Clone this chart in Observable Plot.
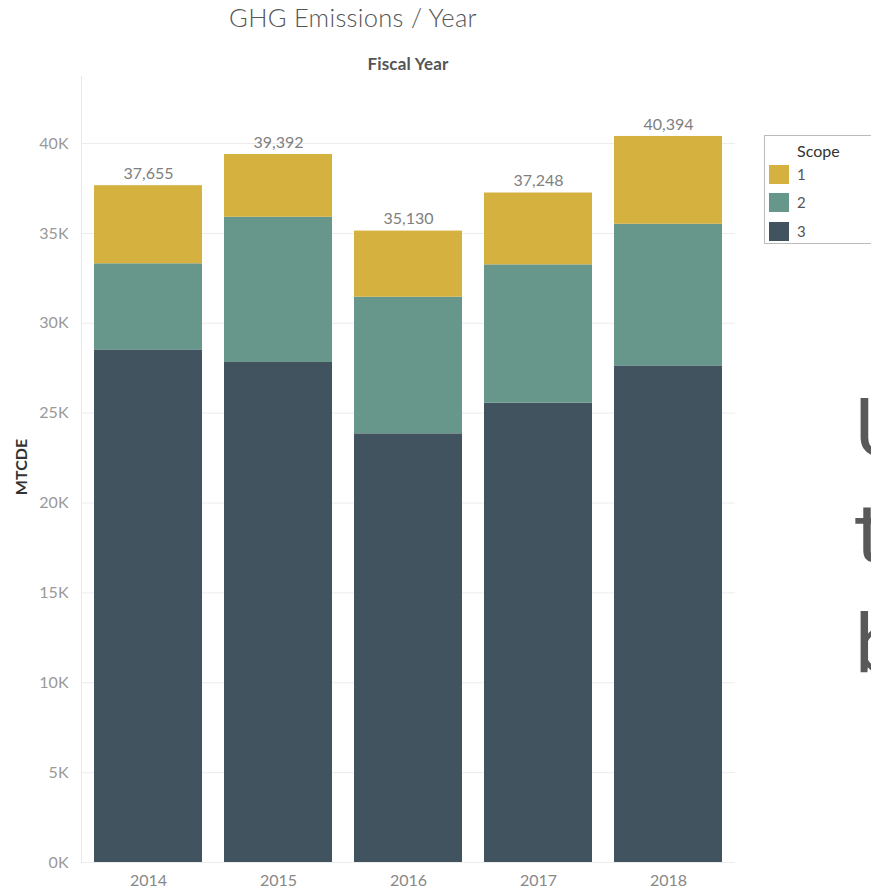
<!DOCTYPE html>
<html>
<head>
<meta charset="utf-8">
<script src="https://cdn.jsdelivr.net/npm/d3@7"></script>
<script src="https://cdn.jsdelivr.net/npm/@observablehq/plot@0.6"></script>
<style>
  html, body { margin: 0; padding: 0; background: #fff; }
  body { width: 871px; height: 890px; position: relative; overflow: hidden; font-family: Lato, "Open Sans", sans-serif; }
  #chart { position: absolute; left: 0; top: 0; }
  .title { position: absolute; top: 2px; left: 0; width: 706px; text-align: center; font-size: 25.5px; color: #555; font-weight: 300; letter-spacing: 0.3px; }
  .xlabel { position: absolute; top: 53px; left: 0; width: 816px; text-align: center; font-size: 17px; font-weight: bold; color: #555; letter-spacing: 0.2px; }
  .ylabel { position: absolute; left: 20px; top: 467px; transform: translate(-50%, -50%) rotate(-90deg); font-size: 16px; font-weight: bold; color: #333; white-space: nowrap; }
  .legend { position: absolute; left: 764px; top: 135px; width: 130px; height: 109px; border: 1px solid #bbb; box-sizing: border-box; background: #fff; }
  .legend .lt { position: absolute; left: 32px; top: 5px; font-size: 16px; color: #333; }
  .legend .row { position: absolute; left: 4px; height: 19px; }
  .legend .sw { position: absolute; left: 0; top: 0; width: 20px; height: 19px; }
  .legend .lab { position: absolute; left: 28px; top: 0; font-size: 15px; color: #555; line-height: 19px; }
  .big { position: absolute; left: 855px; font-family: Roboto, "Liberation Sans", sans-serif; font-size: 82px; color: #595959; line-height: 1; }
</style>
</head>
<body>
<div id="chart"></div>
<div class="title">GHG Emissions / Year</div>
<div class="xlabel">Fiscal Year</div>
<div class="ylabel">MTCDE</div>
<div class="legend" id="legend"></div>
<div class="big" style="top:387px">U</div>
<div class="big" style="top:492px">t</div>
<div class="big" style="top:603px">b</div>
<script>
const years = ["2014", "2015", "2016", "2017", "2018"];
const scopes = ["1", "2", "3"];
const scope1 = [4345, 3492, 3680, 3998, 4884];
const scope2 = [4790, 8080, 7600, 7700, 7880];
const scope3 = [28520, 27820, 23850, 25550, 27630];
const totals = [37655, 39392, 35130, 37248, 40394];
const scopeColors = ["#d5b13f", "#67968a", "#41535f"];
const yTicks = [0, 5000, 10000, 15000, 20000, 25000, 30000, 35000, 40000];

const rows = [];
years.forEach((yr, i) => {
  rows.push({year: yr, scope: "3", value: scope3[i]});
  rows.push({year: yr, scope: "2", value: scope2[i]});
  rows.push({year: yr, scope: "1", value: scope1[i]});
});
const totalRows = years.map((yr, i) => ({year: yr, total: totals[i]}));

const chart = Plot.plot({
  width: 871,
  height: 890,
  marginLeft: 81,
  marginRight: 136,
  marginTop: 76,
  marginBottom: 28,
  style: {fontFamily: "Lato, 'Open Sans', sans-serif", fontSize: "16px", background: "transparent"},
  x: {domain: years, paddingInner: 0.17, paddingOuter: 0.085, label: null},
  y: {domain: [0, 43730], label: null},
  color: {domain: scopes, range: scopeColors},
  marks: [
    Plot.gridY(yTicks, {stroke: "#ececec", strokeOpacity: 1}),
    Plot.frame({anchor: "left", stroke: "#e8e8e8"}),
    Plot.barY(rows, {x: "year", y: "value", fill: "scope", order: ["3", "2", "1"]}),
    Plot.text(totalRows, {x: "year", y: "total", text: d => d3.format(",")(d.total), dy: -12, fill: "#808080", fontSize: 16}),
    Plot.axisY(yTicks, {tickSize: 0, tickPadding: 13, tickFormat: d => (d / 1000) + "K", fill: "#999", fontSize: 16, label: null}),
    Plot.axisX({tickSize: 0, tickPadding: 12, fill: "#888", fontSize: 16, label: null})
  ]
});
document.getElementById("chart").appendChild(chart);

const legend = document.getElementById("legend");
const lt = document.createElement("div");
lt.className = "lt"; lt.textContent = "Scope";
legend.appendChild(lt);
const rowTops = [29, 57, 86];
scopes.forEach((s, i) => {
  const r = document.createElement("div");
  r.className = "row"; r.style.top = rowTops[i] + "px";
  const sw = document.createElement("div");
  sw.className = "sw"; sw.style.background = scopeColors[i];
  const lab = document.createElement("div");
  lab.className = "lab"; lab.textContent = s;
  r.appendChild(sw); r.appendChild(lab);
  legend.appendChild(r);
});
</script>
</body>
</html>
